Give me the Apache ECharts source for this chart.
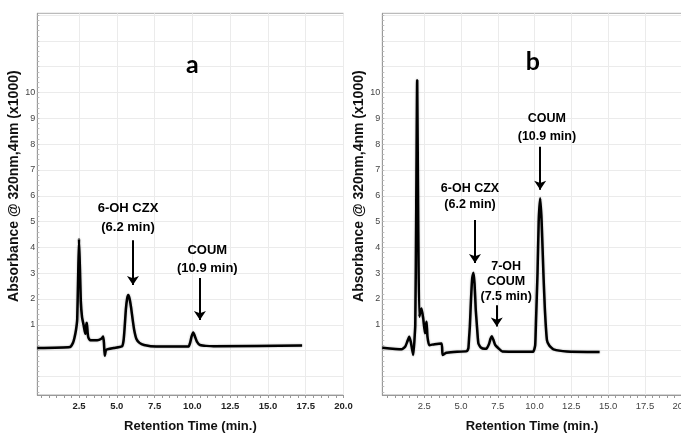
<!DOCTYPE html>
<html><head><meta charset="utf-8">
<script src="https://cdn.jsdelivr.net/npm/echarts@6/dist/echarts.min.js"></script>
<style>html,body{margin:0;padding:0;background:#fff}#c{width:681px;height:434px}</style>
</head><body><div id="c"></div>
<script>
// ---- tick labels ----
const xTickLabels = [2.5, 5, 7.5, 10, 12.5, 15, 17.5, 20];
const yTickLabels = [1, 2, 3, 4, 5, 6, 7, 8, 9, 10];
const yGridValues = [-1, 0, 1, 2, 3, 4, 5, 6, 7, 8, 9, 10, 11, 12, 13];
const xMinorTicks = [];
for (let i = 0; i <= 40; i++) xMinorTicks.push(i * 0.5);
const yMinorTicks = [];
for (let i = -8; i <= 65; i++) yMinorTicks.push(+(i * 0.2).toFixed(1));

// ---- panel a trace (min, absorbance x1000) ----
const traceA = [[-0.26,0.10],[1.9,0.14],[2.1,0.3],[2.2,0.5],[2.3,0.8],[2.38,1.2],[2.44,2.8],[2.5,4.32],[2.56,3.2],[2.62,1.9],[2.7,1.3],[2.8,1.0],[2.88,0.75],[2.93,0.65],[2.98,1.0],[3.02,1.08],[3.07,0.7],[3.12,0.5],[3.25,0.4],[3.7,0.4],[4.0,0.47],[4.1,0.55],[4.15,0.3],[4.2,-0.2],[4.3,0.03],[4.8,0.1],[5.35,0.17],[5.45,0.4],[5.52,0.9],[5.6,1.6],[5.68,2.0],[5.76,2.15],[5.85,2.0],[5.95,1.65],[6.05,1.2],[6.15,0.8],[6.3,0.45],[6.5,0.3],[6.8,0.22],[7.6,0.16],[9.75,0.16],[9.85,0.3],[9.95,0.55],[10.06,0.7],[10.17,0.55],[10.3,0.35],[10.5,0.22],[11.4,0.17],[17.26,0.2]];
// ---- panel b trace ----
const traceB = [[-0.35,0.11],[0.96,0.05],[1.2,0.15],[1.35,0.35],[1.48,0.54],[1.58,0.35],[1.66,0.1],[1.75,-0.17],[1.89,0.99],[1.95,5.0],[2.02,10.48],[2.09,5.0],[2.16,1.31],[2.24,1.5],[2.32,1.63],[2.43,1.25],[2.55,0.67],[2.62,1.0],[2.66,1.12],[2.72,0.54],[2.84,0.21],[3.2,0.25],[3.68,0.28],[3.75,-0.17],[4.0,-0.08],[4.5,-0.05],[5.4,-0.02],[5.5,0.09],[5.55,0.5],[5.6,0.92],[5.68,2.0],[5.76,2.8],[5.84,3.02],[5.92,2.6],[6.0,1.6],[6.07,1.05],[6.18,0.28],[6.35,0.12],[6.6,0.07],[6.75,0.09],[6.9,0.25],[7.0,0.45],[7.09,0.56],[7.2,0.42],[7.32,0.22],[7.54,0.09],[7.8,-0.03],[9.9,-0.04],[10.04,0.2],[10.1,1.2],[10.2,3.0],[10.28,5.0],[10.38,5.9],[10.48,5.0],[10.6,3.0],[10.7,1.6],[10.84,0.41],[11.0,0.2],[11.29,0.05],[12.2,-0.03],[14.42,-0.05]];

// ---- annotations (data units) ----
const annotTextA = ['6-OH CZX\n(6.2 min)', 'COUM\n(10.9 min)'];
const annotXA = [5.74, 10.99];
const annotYA = [5.16, 3.55];
const arrowXA = [6.07, 10.5];
const arrowTopA = [4.28, 2.81];
const arrowTipA = [2.34, 0.99];

const annotTextB = ['6-OH CZX\n(6.2 min)', '7-OH\nCOUM\n(7.5 min)', 'COUM\n(10.9 min)'];
const annotXB = [5.61, 8.07, 10.84];
const annotYB = [5.98, 2.66, 8.64];
const arrowXB = [5.95, 7.43, 10.38];
const arrowTopB = [5.06, 1.76, 7.9];
const arrowTipB = [3.19, 0.73, 6.03];

const panelTitles = ['a', 'b'];
const titleX = [10.0, 9.88];
const titleY = [11.07, 11.19];

// ---- styles ----
const lineHeightsA = [19, 18];
const lineHeightsB = [16, 15, 18];
const X_MIN = [-0.26, -0.35], X_MAX = 20, Y_MIN = -1.72, Y_MAX = 13.07;
const ARROW_HALF = 0.2;
const GRID_COLOR = '#ebebeb', AXIS_COLOR = '#999';
const FONT = '"Liberation Sans", Arial, sans-serif';

const chart = echarts.init(document.getElementById('c'), null, {renderer: 'canvas'});

function xAxes(gi) {
  const bold = gi === 0;
  return [
    {type: 'value', gridIndex: gi, min: X_MIN[gi], max: X_MAX, position: 'bottom',
     axisLine: {show: true, onZero: false, lineStyle: {color: AXIS_COLOR}},
     axisTick: {show: true, customValues: xMinorTicks, length: 3, lineStyle: {color: AXIS_COLOR}},
     axisLabel: {show: false}, splitLine: {show: false}},
    {type: 'value', gridIndex: gi, min: X_MIN[gi], max: X_MAX, position: 'bottom',
     axisLine: {show: false, onZero: false},
     axisTick: {show: true, customValues: xTickLabels, length: 3, lineStyle: {color: AXIS_COLOR}},
     axisLabel: {customValues: xTickLabels, formatter: v => v.toFixed(1), margin: 6,
       fontSize: 9.5, fontFamily: FONT, fontWeight: bold ? 'bold' : 'normal', color: bold ? '#222' : '#444'},
     splitLine: {show: true, lineStyle: {color: GRID_COLOR, width: 1}},
     name: 'Retention Time (min.)', nameLocation: 'middle', nameGap: 25,
     nameTextStyle: {fontSize: 13, fontWeight: 'bold', fontFamily: FONT, color: '#111'}}
  ];
}
function yAxes(gi) {
  return [
    {type: 'value', gridIndex: gi, min: Y_MIN, max: Y_MAX, position: 'left',
     axisLine: {show: true, onZero: false, lineStyle: {color: AXIS_COLOR}},
     axisTick: {show: false, customValues: yGridValues},
     axisLabel: {customValues: yTickLabels, margin: 2, fontSize: 9, fontFamily: FONT, color: '#444'},
     splitLine: {show: true, lineStyle: {color: GRID_COLOR, width: 1}},
     name: 'Absorbance @ 320nm,4nm (x1000)', nameLocation: 'middle', nameGap: 11, nameRotate: 90,
     nameTextStyle: {fontSize: 14, fontWeight: 'bold', fontFamily: FONT, color: '#111', padding: [0, 0, 0, 36]}},
    {type: 'value', gridIndex: gi, min: Y_MIN, max: Y_MAX, position: 'left',
     axisLine: {show: false, onZero: false},
     axisTick: {show: true, inside: true, customValues: yMinorTicks, length: 2, lineStyle: {color: '#bbb'}},
     axisLabel: {show: false}, splitLine: {show: false}}
  ];
}

function traceSeries(gi, data, ax, atop, atip) {
  return {
    type: 'line', xAxisIndex: gi * 2 + 1, yAxisIndex: gi * 2, data: data,
    symbol: 'none', smooth: 0.15, clip: true,
    lineStyle: {color: '#000', width: 2.5, shadowBlur: 2, shadowColor: 'rgba(0,0,0,0.35)'},
    markLine: {
      silent: true, symbol: ['none', 'arrow'], symbolSize: 9,
      label: {show: false},
      lineStyle: {color: '#000', width: 2, type: 'solid', opacity: 1},
      itemStyle: {color: '#000', opacity: 1},
      data: ax.map((x, i) => [{coord: [x, atop[i]]}, {coord: [x, atip[i] + ARROW_HALF]}])
    }
  };
}
function labelSeries(gi, texts, xs, ys, lhs, fs) {
  return {
    type: 'scatter', xAxisIndex: gi * 2 + 1, yAxisIndex: gi * 2, symbolSize: 0, silent: true,
    itemStyle: {opacity: 1},
    data: texts.map((t, i) => ({value: [xs[i], ys[i]], label: {lineHeight: lhs[i]}, name: t})),
    label: {show: true, position: 'inside', formatter: p => p.name, fontSize: fs,
      fontWeight: 'bold', fontFamily: FONT, color: '#000', align: 'center', verticalAlign: 'middle'}
  };
}
function titleSeries(gi) {
  return {
    type: 'scatter', xAxisIndex: gi * 2 + 1, yAxisIndex: gi * 2, symbolSize: 0, silent: true,
    itemStyle: {opacity: 1},
    data: [{value: [titleX[gi], titleY[gi]], name: panelTitles[gi]}],
    label: {show: true, position: 'inside', formatter: p => p.name, fontSize: 25,
      fontWeight: 'bold', fontFamily: 'Lato, "Open Sans", sans-serif', color: '#000'}
  };
}

chart.setOption({
  animation: false,
  backgroundColor: '#fff',
  grid: [
    {left: 37.3, top: 13.3, width: 306.2, height: 381.7, show: true, borderColor: '#aaa', borderWidth: 1, outerBoundsMode: 'none', containLabel: false},
    {left: 382.3, top: 13.3, width: 299.4, height: 381.7, show: true, borderColor: '#aaa', borderWidth: 1, outerBoundsMode: 'none', containLabel: false}
  ],
  xAxis: [...xAxes(0), ...xAxes(1)],
  yAxis: [...yAxes(0), ...yAxes(1)],
  series: [
    traceSeries(0, traceA, arrowXA, arrowTopA, arrowTipA),
    traceSeries(1, traceB, arrowXB, arrowTopB, arrowTipB),
    labelSeries(0, annotTextA, annotXA, annotYA, lineHeightsA, 13),
    labelSeries(1, annotTextB, annotXB, annotYB, lineHeightsB, 12.5),
    titleSeries(0), titleSeries(1)
  ]
});
</script></body></html>
